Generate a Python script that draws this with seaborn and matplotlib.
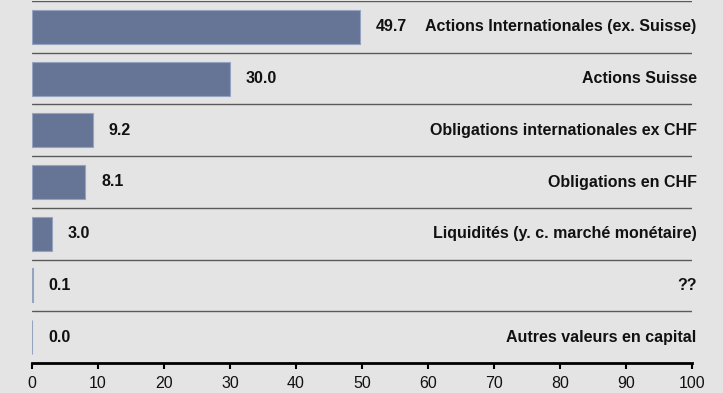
import pandas as pd
import seaborn as sns
import matplotlib.pyplot as plt

# Répartition des placements (%)
categories = [
    "Actions Internationales (ex. Suisse)",
    "Actions Suisse",
    "Obligations internationales ex CHF",
    "Obligations en CHF",
    "Liquidités (y. c. marché monétaire)",
    "??",
    "Autres valeurs en capital",
]
values = [49.7, 30.0, 9.2, 8.1, 3.0, 0.1, 0.0]
x_ticks = [0, 10, 20, 30, 40, 50, 60, 70, 80, 90, 100]

bg = "#e4e4e4"
bar_color = "#667595"

sns.set_theme(style="white")
plt.rcParams['font.family'] = ['Liberation Sans', 'DejaVu Sans']

data = pd.DataFrame({"categorie": categories, "valeur": values})

fig = plt.figure(figsize=(7.23, 3.93), dpi=100, facecolor=bg)
ax = fig.add_axes([32 / 723, 1 - 363 / 393, 660 / 723, 362 / 393])
ax.set_facecolor(bg)

sns.barplot(data=data, x="valeur", y="categorie", orient="h", color=bar_color,
            width=0.66, saturation=1, edgecolor="#95a2c0", linewidth=0.8, ax=ax)

# séparateurs entre les lignes
for i in range(len(categories)):
    ax.axhline(i - 0.5, color="#5a5a5a", linewidth=1, zorder=1)

ax.bar_label(ax.containers[0], fmt="%.1f", padding=11.5, fontsize=11.5,
             fontweight="bold", color="#111111")

for i, label in enumerate(categories):
    ax.text(100.7, i, label, ha="right", va="center", fontsize=11.5,
            fontweight="bold", color="#111111")

ax.set_xlim(0, 100)
ax.set_ylim(len(categories) - 0.5, -0.5)
ax.set_xticks(x_ticks)
ax.set_yticks([])
ax.set_xlabel("")
ax.set_ylabel("")
ax.tick_params(axis="x", direction="out", length=4, width=1.5, color="black",
               labelsize=11.5, labelcolor="#111111", pad=5, bottom=True)

for side in ["left", "right", "top"]:
    ax.spines[side].set_visible(False)
ax.spines["bottom"].set_color("black")
ax.spines["bottom"].set_linewidth(2)

fig.savefig("out.png", dpi=100, facecolor=bg)
